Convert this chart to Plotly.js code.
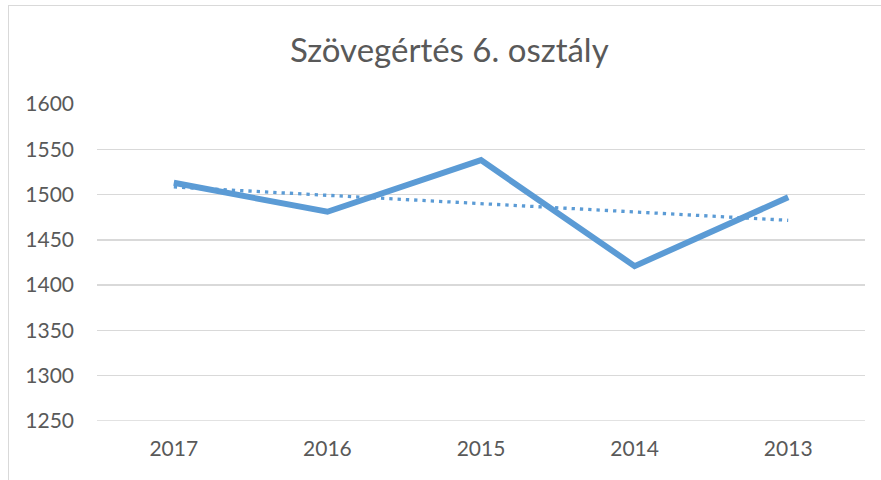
<!DOCTYPE html>
<html>
<head>
<meta charset="utf-8">
<script src="https://cdn.plot.ly/plotly-3.0.1.min.js"></script>
<style>
html,body{margin:0;padding:0;background:#fff;}
#wrap{position:relative;width:881px;height:480px;overflow:hidden;}
#chart{width:881px;height:480px;}
#frame{position:absolute;left:8px;top:5px;width:880px;height:490px;border:1.5px solid #d9d9d9;box-sizing:border-box;pointer-events:none;}
</style>
</head>
<body>
<div id="wrap"><div id="chart"></div><div id="frame"></div></div>
<script>
var chartTitle = "Szövegértés 6. osztály";
var years = ["2017", "2016", "2015", "2014", "2013"];
var scores = [1513, 1481, 1538, 1421, 1497];
var yTicks = [1250, 1300, 1350, 1400, 1450, 1500, 1550, 1600];

// linear trendline (least squares) over category index, like a spreadsheet trendline
var n = scores.length, sx = 0, sy = 0, sxx = 0, sxy = 0;
for (var i = 0; i < n; i++) { sx += i; sy += scores[i]; sxx += i * i; sxy += i * scores[i]; }
var slope = (n * sxy - sx * sy) / (n * sxx - sx * sx);
var intercept = (sy - slope * sx) / n;
var trend = scores.map(function (_, i) { return intercept + slope * i; });

var blue = "#5B9BD5";
var data = [
  {x: years, y: trend, type: "scatter", mode: "lines",
   line: {color: blue, width: 3.3, dash: "3.3px,5px"}, hoverinfo: "skip"},
  {x: years, y: scores, type: "scatter", mode: "lines",
   line: {color: blue, width: 6}}
];

var font = "Lato, 'Open Sans', sans-serif";
var layout = {
  width: 881, height: 480,
  margin: {l: 97, r: 16, t: 104, b: 59},
  paper_bgcolor: "#fff", plot_bgcolor: "#fff",
  showlegend: false,
  title: {text: chartTitle, x: 0.51, xref: "container", xanchor: "center", y: 0.895, yanchor: "middle",
          font: {family: font, size: 33, color: "#595959"}},
  xaxis: {type: "category", range: [-0.5, 4.5], showgrid: false, zeroline: false, showline: false,
          ticks: "", tickfont: {family: font, size: 21, color: "#595959"}, ticklabelstandoff: 13,
          fixedrange: true},
  yaxis: {range: [1250, 1600], tickvals: yTicks, showgrid: true, gridcolor: "#d9d9d9", gridwidth: 1.5,
          zeroline: false, showline: false, ticks: "",
          tickfont: {family: font, size: 21, color: "#595959"}, ticklabelstandoff: 22,
          fixedrange: true},
  shapes: [{type: "line", xref: "paper", yref: "y", x0: 0, x1: 1, y0: 1250, y1: 1250,
            line: {color: "#d9d9d9", width: 1.5}, layer: "below"}]
};
Plotly.newPlot("chart", data, layout, {displayModeBar: false, staticPlot: true});
</script>
</body>
</html>
